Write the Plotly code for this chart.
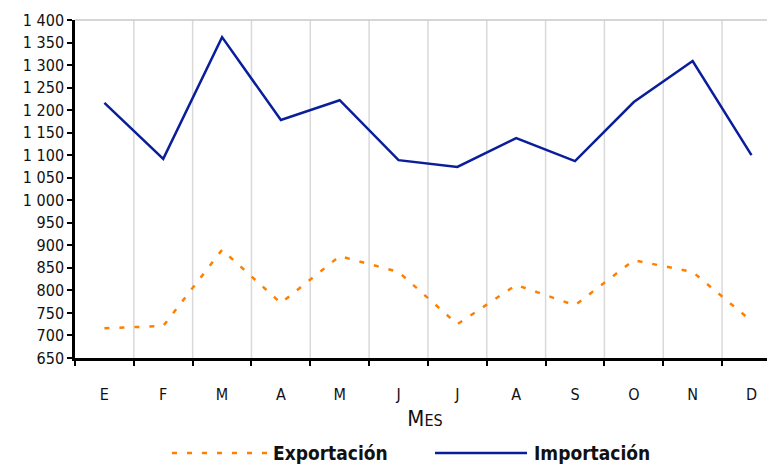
import plotly.graph_objects as go

meses = ["E", "F", "M", "A", "M", "J", "J", "A", "S", "O", "N", "D"]
exportacion = [716, 721, 890, 772, 876, 841, 725, 812, 767, 867, 841, 732]
importacion = [1216, 1092, 1362, 1178, 1222, 1089, 1074, 1138, 1087, 1218, 1309, 1100]
y_ticks = list(range(650, 1401, 50))

FONT = "DejaVu Sans Condensed, DejaVu Sans, sans-serif"
COL_EXP = "#FF8000"
COL_IMP = "#0A1E9B"
idx = list(range(len(meses)))

# page body has an 8px default margin; compensate so the plot sits where the reference has it
OFF = 8
L, T, B = 75 - OFF, 20 - OFF, 106
W, H = 775 - OFF, 464 - OFF

fig = go.Figure()
fig.add_trace(go.Scatter(
    x=idx, y=exportacion, mode="lines", name="Exportación", showlegend=False,
    line=dict(color=COL_EXP, width=2.5, dash="5px,10px"),
))
fig.add_trace(go.Scatter(
    x=idx, y=importacion, mode="lines", name="Importación", showlegend=False,
    line=dict(color=COL_IMP, width=2.5),
))

fig.update_layout(
    width=W, height=H,
    margin=dict(l=L, r=0, t=T, b=B, autoexpand=False),
    paper_bgcolor="white", plot_bgcolor="white",
    font=dict(family=FONT, size=16, color="#111"),
    separators=", ",
    xaxis=dict(
        range=[-0.5, 11.4], automargin=False,
        tickmode="array", tickvals=idx, ticktext=meses,
        showgrid=False,
        showline=True, linecolor="black", linewidth=2.5,
        ticks="", ticklabelstandoff=20,
        zeroline=False,
        title=dict(text="M<span style='font-size:16px'>ES</span>", font=dict(size=22), standoff=8),
    ),
    yaxis=dict(
        range=[650, 1400], automargin=False,
        tickmode="array", tickvals=y_ticks,
        tickformat=",d",
        showgrid=False, zeroline=False,
        showline=True, linecolor="black", linewidth=2.5,
        ticks="outside", ticklen=5, tickwidth=2, tickcolor="black",
    ),
)

shapes = []
for i in range(1, 12):
    xb = i - 0.5
    shapes.append(dict(type="line", xref="x", yref="paper", x0=xb, x1=xb, y0=0, y1=1,
                       line=dict(color="#D9D9D9", width=1.5), layer="below"))
shapes.append(dict(type="line", xref="paper", yref="paper", x0=0, x1=1, y0=1, y1=1,
                   line=dict(color="#C8C8C8", width=1.5), layer="below"))

# manual legend (positions in page pixels converted to paper coords)
PW = W - L
PH = H - T - B

def px_x(px):
    return (px - 75) / PW

def px_y(py):
    return (358 - py) / PH

ly = px_y(453)
shapes.append(dict(type="line", xref="paper", yref="paper", x0=px_x(172), x1=px_x(268), y0=ly, y1=ly,
                   line=dict(color=COL_EXP, width=2.5, dash="5px,10px")))
shapes.append(dict(type="line", xref="paper", yref="paper", x0=px_x(435), x1=px_x(527), y0=ly, y1=ly,
                   line=dict(color=COL_IMP, width=2.5)))
fig.update_layout(shapes=shapes)
fig.add_annotation(xref="paper", yref="paper", x=px_x(271), y=ly, text="<b>Exportación</b>",
                   showarrow=False, xanchor="left", yanchor="middle", font=dict(size=19, color="#111"))
fig.add_annotation(xref="paper", yref="paper", x=px_x(532), y=ly, text="<b>Importación</b>",
                   showarrow=False, xanchor="left", yanchor="middle", font=dict(size=19, color="#111"))

# boundary ticks on x-axis via an overlay axis
fig.update_layout(xaxis2=dict(
    overlaying="x", side="bottom", anchor="y", automargin=False,
    range=[-0.5, 11.4], tickmode="array", tickvals=[i - 0.5 for i in range(12)],
    showticklabels=False, ticks="outside", ticklen=7, tickwidth=2, tickcolor="black",
    showgrid=False, showline=False, zeroline=False,
))
fig.add_trace(go.Scatter(x=[None], y=[None], xaxis="x2", showlegend=False, hoverinfo="skip"))

fig.write_html("out.html")
